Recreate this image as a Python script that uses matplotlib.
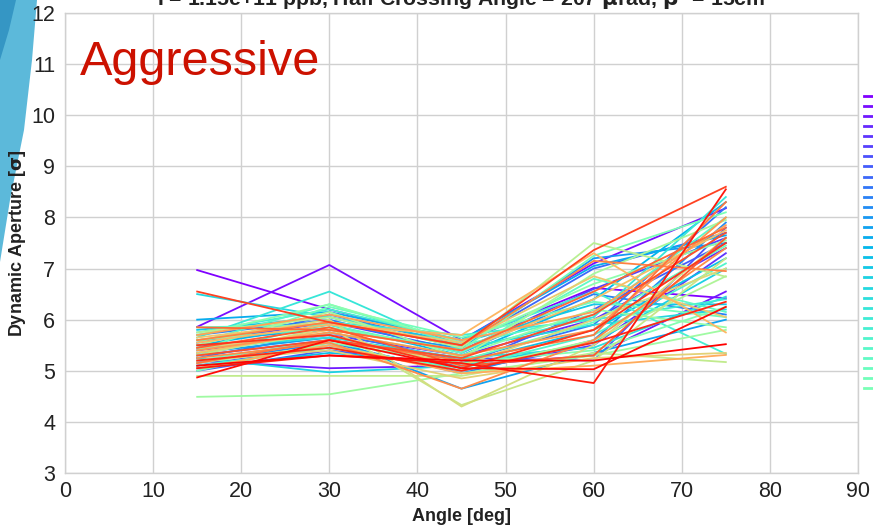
import numpy as np
import matplotlib
matplotlib.use("Agg")
import matplotlib.pyplot as plt
from matplotlib.patches import Polygon

# Crossing angles scanned
angles = [15, 30, 45, 60, 75]

# Dynamic aperture [sigma] per seed, one row per seed, columns follow `angles`
seed_da = [
    [6.97, 6.20, 5.55, 6.62, 6.42],
    [5.86, 7.07, 5.60, 7.10, 8.18],
    [5.20, 5.05, 5.10, 5.30, 6.55],
    [5.40, 5.70, 5.30, 6.00, 7.40],
    [5.10, 5.50, 5.00, 5.50, 7.30],
    [5.55, 5.95, 5.40, 6.60, 7.60],
    [5.30, 5.60, 5.25, 5.20, 7.80],
    [5.00, 5.40, 5.10, 6.20, 7.50],
    [5.45, 6.10, 5.50, 7.00, 7.70],
    [5.25, 5.75, 5.20, 5.90, 8.20],
    [5.70, 6.00, 5.35, 6.50, 6.10],
    [5.15, 5.55, 4.95, 5.60, 7.90],
    [5.60, 5.80, 5.45, 7.20, 7.50],
    [5.35, 5.65, 4.65, 5.35, 6.00],
    [6.00, 6.15, 5.60, 7.05, 7.65],
    [5.50, 5.90, 5.30, 6.40, 8.30],
    [5.05, 5.35, 5.15, 5.80, 7.20],
    [5.80, 6.05, 5.55, 6.30, 6.30],
    [5.25, 4.97, 5.10, 5.55, 7.00],
    [6.50, 6.05, 5.45, 5.90, 6.20],
    [5.45, 5.65, 5.25, 5.45, 6.45],
    [5.65, 6.55, 5.40, 6.05, 8.40],
    [5.30, 5.95, 5.70, 6.00, 6.40],
    [5.75, 6.20, 5.60, 6.55, 5.33],
    [5.10, 5.45, 5.05, 5.70, 7.10],
    [5.55, 6.30, 5.50, 6.10, 8.00],
    [5.85, 5.90, 5.35, 6.80, 6.15],
    [5.20, 5.60, 5.20, 5.95, 7.45],
    [5.40, 6.25, 5.65, 6.35, 6.05],
    [5.60, 5.85, 5.40, 7.25, 8.10],
    [5.00, 5.55, 5.15, 5.40, 6.25],
    [5.70, 6.30, 5.55, 6.70, 7.55],
    [5.35, 5.75, 5.30, 6.20, 5.85],
    [4.49, 4.54, 4.95, 5.30, 5.80],
    [5.50, 6.15, 5.25, 6.90, 7.95],
    [5.15, 5.50, 5.00, 5.60, 6.85],
    [5.75, 6.05, 5.45, 7.50, 6.84],
    [4.90, 4.90, 4.90, 5.35, 5.17],
    [5.30, 5.85, 4.33, 5.20, 7.20],
    [5.60, 6.00, 4.30, 5.50, 7.60],
    [5.45, 5.70, 5.10, 6.00, 7.00],
    [5.20, 5.40, 4.85, 5.25, 5.35],
    [5.65, 5.95, 5.55, 6.85, 6.05],
    [5.35, 5.80, 5.40, 6.40, 7.75],
    [5.55, 5.90, 5.70, 7.30, 5.75],
    [5.05, 5.50, 4.95, 5.10, 5.31],
    [5.70, 6.10, 5.60, 6.15, 7.85],
    [5.40, 5.75, 5.30, 5.80, 8.00],
    [5.25, 5.55, 4.65, 5.60, 7.40],
    [5.60, 5.95, 5.50, 7.15, 6.95],
    [5.15, 5.60, 5.20, 5.70, 8.30],
    [5.85, 5.80, 5.40, 6.55, 7.80],
    [5.45, 5.85, 5.10, 5.30, 7.60],
    [5.30, 5.60, 5.25, 6.10, 7.70],
    [6.55, 5.95, 5.50, 7.36, 8.60],
    [5.50, 5.70, 5.05, 5.80, 7.50],
    [5.20, 5.45, 5.00, 5.55, 6.35],
    [5.05, 5.30, 5.15, 4.76, 8.55],
    [4.87, 5.60, 5.05, 5.03, 6.25],
    [5.10, 5.30, 5.20, 5.20, 5.52],
]
seed_labels = [f"Seed {i + 1}" for i in range(len(seed_da))]

x_ticks = [0, 10, 20, 30, 40, 50, 60, 70, 80, 90]
y_ticks = [3, 4, 5, 6, 7, 8, 9, 10, 11, 12]

plt.rcParams["font.family"] = ["Liberation Sans", "DejaVu Sans"]
plt.rcParams["mathtext.fontset"] = "dejavusans"

W, H = 873, 529
fig = plt.figure(figsize=(W / 100, H / 100), dpi=100)
fig.patch.set_facecolor("white")

# decorative swoosh in the top-left corner
light = [(0, 0), (37, 0), (32, 60), (24, 130), (10, 200), (0, 262)]
dark = [(0, 0), (16, 0), (9, 30), (0, 60)]
for pts, col in ((light, "#5cb9da"), (dark, "#3596c4")):
    fig.add_artist(Polygon([(x / W, 1 - y / H) for x, y in pts], closed=True,
                           transform=fig.transFigure, facecolor=col,
                           edgecolor="none", zorder=0))

ax = fig.add_axes([65 / W, 1 - 473 / H, (858 - 65) / W, (473 - 13) / H])
ax.set_facecolor("white")

colors = plt.cm.rainbow(np.linspace(0, 1, len(seed_da)))
for vals, col, lab in zip(seed_da, colors, seed_labels):
    ax.plot(angles, vals, color=col, lw=1.3, label=lab)

ax.set_xlim(0, 90)
ax.set_ylim(3, 12)
ax.set_xticks(x_ticks)
ax.set_yticks(y_ticks)
ax.grid(True, color="#d0d0d0", lw=1.0)
ax.set_axisbelow(True)
for s in ax.spines.values():
    s.set_color("#d0d0d0")
    s.set_linewidth(1.0)
ax.tick_params(axis="both", length=0, labelsize=15.5, colors="#222222")
ax.tick_params(axis="y", pad=7)
ax.tick_params(axis="x", pad=6)

ax.set_xlabel("Angle [deg]", fontsize=13, fontweight="bold", color="#222222", labelpad=4)
ax.set_ylabel(r"Dynamic Aperture [$\mathbf{\sigma}$]", fontsize=13,
              fontweight="bold", color="#222222", labelpad=2)
ax.set_title(r"I = 1.15e+11 ppb, Half Crossing Angle = 207 $\mathbf{\mu}$rad, $\mathbf{\beta^{*}}$ = 15cm",
             fontsize=15.3, fontweight="bold", color="#222222", pad=4)

ax.text(1.7, 10.78, "Aggressive", fontsize=35, color="#cc1100", ha="left", va="baseline")

leg = ax.legend(loc="upper left", bbox_to_anchor=(864 / W, 1 - 93 / H),
                bbox_transform=fig.transFigure, ncol=2, frameon=False,
                fontsize=6, labelspacing=0.27, borderpad=0, borderaxespad=0,
                handlelength=2.0, handletextpad=0.5, columnspacing=1.0)
for line in leg.get_lines():
    line.set_linewidth(2.0)

fig.savefig("out.png", dpi=100, facecolor="white")
